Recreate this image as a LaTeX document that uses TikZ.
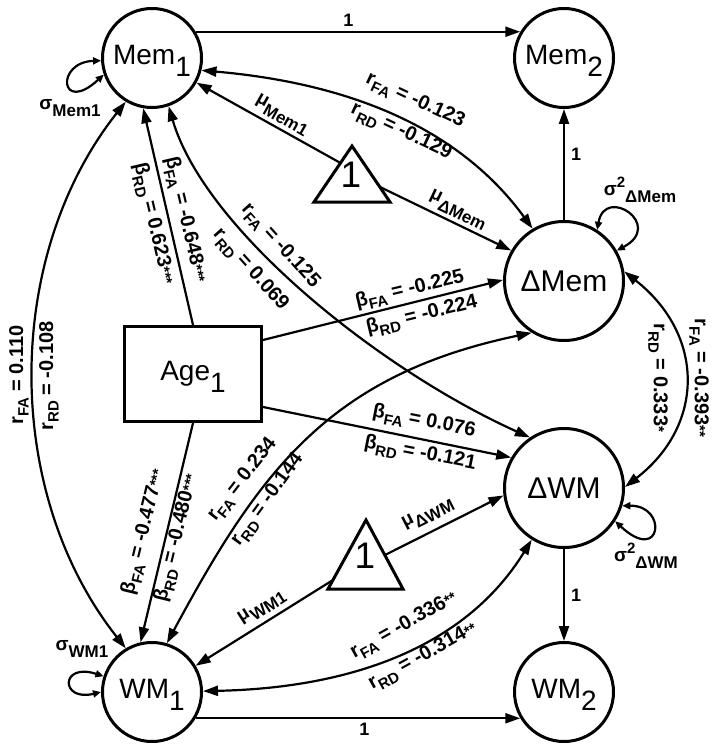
\documentclass[tikz,border=0pt]{standalone}
\usepackage{fontspec}
\setmainfont{Liberation Sans}
\usetikzlibrary{arrows.meta}
\newcommand{\nsub}[1]{\raisebox{-12pt}[0pt][0pt]{#1}}
\newcommand{\lsb}[1]{\raisebox{-5.5pt}{\fontsize{15}{15}\selectfont #1}}
\newcommand{\msb}[1]{\raisebox{-7pt}{\fontsize{17}{17}\selectfont #1}}
\newcommand{\lsp}[1]{\raisebox{8pt}{\fontsize{15}{15}\selectfont #1}}
\newcommand{\st}[1]{{\fontsize{15}{15}\selectfont #1}}
\begin{document}
\begin{tikzpicture}[x=1pt,y=-1pt,
 lat/.style={circle,draw,line width=3pt,minimum size=99pt,inner sep=0pt,text depth=6pt,font=\fontsize{28}{28}\selectfont},
 biglat/.style={lat,minimum size=119pt,text depth=0pt,font=\fontsize{30}{30}\selectfont},
 obs/.style={rectangle,draw,line width=3pt,minimum width=137pt,minimum height=95pt,inner sep=0pt,font=\fontsize{28}{28}\selectfont},
 tri/.style={draw,line width=3pt,line join=miter},
 one/.style={font=\fontsize{37}{37}\selectfont,inner sep=0pt},
 lab/.style={font=\bfseries\fontsize{20}{20}\selectfont,inner sep=0pt},
 elab/.style={font=\bfseries\fontsize{18}{18}\selectfont,inner sep=0pt},
 mlab/.style={font=\bfseries\fontsize{19}{19}\selectfont,inner sep=0pt},
 arr/.style={line width=2.2pt,-{Triangle[length=15pt,width=10pt]}},
 dbl/.style={line width=2.2pt,{Triangle[length=15pt,width=10pt]}-{Triangle[length=15pt,width=10pt]}},
 selfloop/.style={line width=2.2pt,{Triangle[length=8pt,width=7pt]}-{Triangle[length=8pt,width=7pt]}}]
\useasboundingbox (0,0) rectangle (714,754);

% nodes
\node[lat] (Mem1) at (152,58) {Mem\nsub{1}};
\node[lat] (Mem2) at (564,58) {Mem\nsub{2}};
\node[biglat] (dMem) at (564,281) {ΔMem};
\node[biglat] (dWM) at (564,488) {ΔWM};
\node[lat] (WM1) at (152,692) {WM\nsub{1}};
\node[lat] (WM2) at (564,692) {WM\nsub{2}};
\node[obs] (Age) at (193,374) {Age\nsub{1}};

% constant triangles
\draw[tri] (352,146) -- (390,202) -- (314,202) -- cycle;
\node[one] (one1) at (351,175) {1};
\draw[tri] (366,520) -- (403,589) -- (328,589) -- cycle;
\node[one] (one2) at (365,556) {1};
\coordinate (t1l) at (340.5,163);
\coordinate (t1r) at (380,187);
\coordinate (t2l) at (333,580);
\coordinate (t2r) at (385,555);

% fixed paths
\draw[arr] (Mem1.31) -- node[elab,above=4pt,pos=0.47]{1} (Mem2.149);
\draw[arr] (dMem) -- node[elab,right=6pt,pos=0.59]{1} (Mem2);
\draw[arr] (dWM) -- node[elab,right=6pt]{1} (WM2);
\draw[arr] (WM1.329) -- node[elab,below=4pt,pos=0.52]{1} (WM2.211);

% self loops
\draw[selfloop] (Mem1.183) .. controls (55,62) and (60,115) .. (Mem1.199);
\draw[selfloop] (WM1.162) .. controls (60,662) and (60,702) .. (WM1.180);
\draw[selfloop] (dMem.57) .. controls (605,185) and (665,225) .. (dMem.30);
\draw[selfloop] (dWM.343) .. controls (668,505) and (662,565) .. (dWM.327);
\node[mlab] (sm1) at (70,108) {σ\msb{Mem1}};
\node[mlab] (sw1) at (82,649) {σ\msb{WM1}};
\node[mlab] (sdm) at (640,190) {σ\lsp{2}\msb{ΔMem}};
\node[mlab] (sdw) at (646,556) {σ\lsp{2}\msb{ΔWM}};

% Age regressions
\draw[arr] ([yshift=34pt]Age.east) -- (dMem.179);
\draw[arr] ([yshift=-33pt]Age.east) -- (dWM.150);
\draw[arr] (Age.north) -- (Mem1.260);
\draw[arr] (Age.south) -- (WM1.103);

% means
\draw[arr] (t1l) -- (Mem1.331);
\draw[arr] (t1r) -- (dMem.150);
\draw[arr] (t2l) -- (WM1.31);
\draw[arr] (t2r) -- (dWM.187);
\node[mlab,rotate=-29.5] at (282,115) {μ\msb{Mem1}};
\node[mlab,rotate=-25.7] at (458,210) {μ\msb{ΔMem}};
\node[mlab,rotate=32.6] at (262,607) {μ\msb{WM1}};
\node[mlab,rotate=27] at (428,514) {μ\msb{ΔWM}};

% correlations
\draw[dbl] (Mem1.239) .. controls (3,257) and (3,493) .. (WM1.121);
\draw[dbl] (Mem1.346) .. controls (357,84) and (462,132) .. (dMem.121);
\draw[dbl] (Mem1.289) .. controls (205,230) and (380,370) .. (dWM.124);
\draw[dbl] (WM1.73) .. controls (260,470) and (330,375) .. (dMem.238);
\draw[dbl] (dMem.9) .. controls (705,335) and (705,425) .. (dWM.1);
\draw[dbl] (WM1.1) .. controls (355,688) and (467,645) .. (dWM.238);

% labels
\node[lab,rotate=90] at (19,375) {r\lsb{FA} = 0.110};
\node[lab,rotate=90] at (49,376) {r\lsb{RD} = -0.108};
\node[lab,rotate=-25] at (415,101) {r\lsb{FA} = -0.123};
\node[lab,rotate=-25] at (401,132) {r\lsb{RD} = -0.129};
\node[lab,rotate=-48] at (280,246) {r\lsb{FA} = -0.125};
\node[lab,rotate=-48] at (250,270) {r\lsb{RD} = 0.069};
\node[lab,rotate=52] at (243,480) {r\lsb{FA} = 0.234};
\node[lab,rotate=54] at (268,500) {r\lsb{RD} = -0.144};
\node[lab,rotate=-90] at (699,378) {r\lsb{FA} = -0.393\st{**}};
\node[lab,rotate=-90] at (658,378) {r\lsb{RD} = 0.333\st{*}};
\node[lab,rotate=29] at (404,626) {r\lsb{FA} = -0.336\st{**}};
\node[lab,rotate=29] at (423,657) {r\lsb{RD} = -0.314\st{**}};
\node[lab,rotate=13.4] at (410,290) {β\lsb{FA} = -0.225};
\node[lab,rotate=13.4] at (422,316) {β\lsb{RD} = -0.224};
\node[lab,rotate=-11] at (424,422) {β\lsb{FA} = 0.076};
\node[lab,rotate=-11] at (420,454) {β\lsb{RD} = -0.121};
\node[lab,rotate=-76.8] at (185,220) {β\lsb{FA} = -0.648\st{***}};
\node[lab,rotate=-76.8] at (153,224) {β\lsb{RD} = 0.623\st{***}};
\node[lab,rotate=76.3] at (144,532) {β\lsb{FA} = -0.477\st{***}};
\node[lab,rotate=76.3] at (177,538) {β\lsb{RD} = -0.480\st{***}};
\end{tikzpicture}
\end{document}
